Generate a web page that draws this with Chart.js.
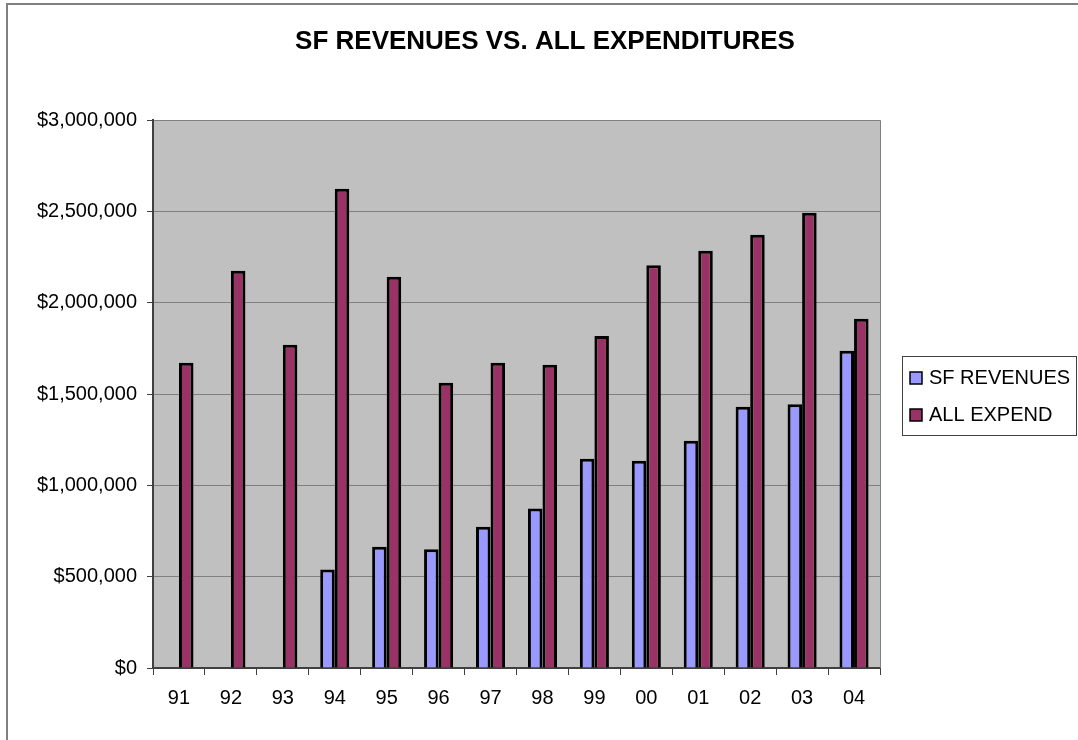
<!DOCTYPE html>
<html><head><meta charset="utf-8">
<script src="https://cdn.jsdelivr.net/npm/chart.js@4.4.0/dist/chart.umd.min.js"></script>
<style>html,body{margin:0;padding:0;background:#fff}#wrap{width:1078px;height:740px}</style>
</head><body><div id="wrap"><canvas id="c" width="1078" height="740"></canvas></div>
<script>
const years = ['91','92','93','94','95','96','97','98','99','00','01','02','03','04'];
const sfRevenues = [null,null,null,540000,664000,650000,774000,874000,1146000,1135000,1245000,1431000,1444000,1737000];
const allExpend = [1672000,2175000,1770000,2624000,2142000,1562000,1672000,1661000,1818000,2206000,2285000,2372000,2493000,1912000];
const seriesNames = ['SF REVENUES','ALL EXPEND'];
const seriesColors = ['#9999FF','#993366'];
const chartTitle = 'SF REVENUES VS. ALL EXPENDITURES';
const yMin = 0, yMax = 3000000, yStep = 500000;

const FONT = "'Liberation Sans', Arial, sans-serif";

const decorPlugin = {
  id: 'decor',
  beforeDraw(chart) {
    const {ctx, chartArea: a} = chart;
    ctx.save();
    ctx.fillStyle = '#fff';
    ctx.fillRect(0, 0, chart.width, chart.height);
    ctx.fillStyle = '#C0C0C0';
    ctx.fillRect(a.left, a.top, a.right - a.left, a.bottom - a.top);
    ctx.strokeStyle = '#808080';
    ctx.lineWidth = 2;
    ctx.beginPath();
    ctx.moveTo(7, 740); ctx.lineTo(7, 4); ctx.lineTo(1078, 4);
    ctx.stroke();
    ctx.restore();
  },
  afterDraw(chart) {
    const {ctx, chartArea: a} = chart;
    ctx.save();
    ctx.strokeStyle = '#808080';
    ctx.lineWidth = 1;
    ctx.beginPath();
    ctx.moveTo(a.right + 0.5, a.top); ctx.lineTo(a.right + 0.5, a.bottom);
    ctx.stroke();
    // legend box
    const lx = 902, ly = 356, lw = 174, lh = 79;
    ctx.strokeStyle = '#404040';
    ctx.lineWidth = 1;
    ctx.strokeRect(lx + 0.5, ly + 0.5, lw, lh);
    ctx.font = '20px ' + FONT;
    ctx.textBaseline = 'middle';
    chart.data.datasets.forEach((ds, i) => {
      const cy = 378 + i * 37;
      ctx.fillStyle = ds.backgroundColor;
      ctx.fillRect(910, cy - 6, 12, 12);
      ctx.strokeStyle = '#000';
      ctx.lineWidth = 1.5;
      ctx.strokeRect(910, cy - 6, 12, 12);
      ctx.fillStyle = '#000';
      ctx.fillText(ds.label, 929, cy);
    });
    ctx.restore();
  }
};

new Chart(document.getElementById('c'), {
  type: 'bar',
  data: {
    labels: years,
    datasets: seriesNames.map((n, i) => ({
      label: n,
      data: i === 0 ? sfRevenues : allExpend,
      backgroundColor: seriesColors[i],
      borderColor: '#000',
      borderWidth: 3,
      borderSkipped: 'bottom',
      categoryPercentage: 0.56,
      barPercentage: 1.0,
      yAxisID: 'y'
    }))
  },
  options: {
    responsive: false,
    animation: false,
    devicePixelRatio: 1,
    layout: { padding: { left: 12, right: 0, top: 0, bottom: 31 } },
    plugins: {
      legend: { display: false },
      tooltip: { enabled: false },
      title: {
        display: true,
        text: chartTitle,
        color: '#000',
        font: { family: FONT, size: 26, weight: 'bold' },
        padding: { top: 26, bottom: 63 }
      }
    },
    scales: {
      x: {
        grid: { offset: true, drawOnChartArea: false, drawTicks: true, tickLength: 7, color: '#404040', lineWidth: 1 },
        border: { color: '#404040', width: 2 },
        ticks: { color: '#000', font: { family: FONT, size: 20 }, padding: 11 },
        afterFit(s) { s.height = 41; }
      },
      y: {
        position: 'left',
        min: yMin, max: yMax,
        grid: { color: '#808080', lineWidth: 1, tickLength: 6, tickColor: '#404040' },
        border: { color: '#404040', width: 2 },
        ticks: {
          stepSize: yStep,
          color: '#000',
          font: { family: FONT, size: 20 },
          padding: 10,
          callback: v => '$' + Number(v).toLocaleString('en-US')
        },
        afterFit(s) { s.width = 141; }
      },
      legendSpace: {
        type: 'linear',
        position: 'right',
        display: true,
        grid: { drawOnChartArea: false, drawTicks: false, display: false },
        border: { display: false },
        ticks: { display: false },
        afterFit(s) { s.width = 198; }
      }
    }
  },
  plugins: [decorPlugin]
});
</script>
</body></html>
